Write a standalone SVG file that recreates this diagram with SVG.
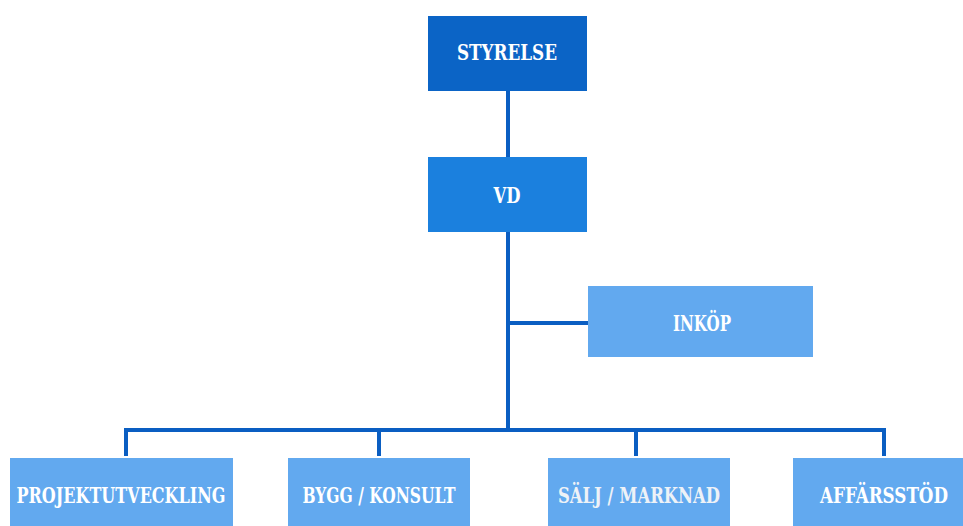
<svg xmlns="http://www.w3.org/2000/svg" width="963" height="526" viewBox="0 0 963 526">
<style>
.box1{fill:#0b64c6}
.box2{fill:#1b80de}
.box3{fill:#62a9ef}
.lbl{fill:#ffffff;font-family:"DejaVu Serif Condensed","DejaVu Serif",serif;font-weight:bold;font-size:23px;text-anchor:middle}
.conn{stroke:#0a5ec2;stroke-width:4;fill:none}
</style>
<rect width="963" height="526" fill="#ffffff"/>
<g id="connectors">
<line class="conn" x1="508" y1="91" x2="508" y2="157"/>
<line class="conn" x1="508" y1="232" x2="508" y2="432"/>
<line class="conn" x1="508" y1="323" x2="588" y2="323"/>
<polyline class="conn" points="126,456 126,430 884,430 884,456"/>
<line class="conn" x1="379" y1="430" x2="379" y2="456"/>
<line class="conn" x1="636" y1="430" x2="636" y2="456"/>
</g>
<g id="styrelse">
<rect class="box1" x="428" y="16" width="159" height="75"/>
<text class="lbl" x="507" y="60" textLength="100" lengthAdjust="spacingAndGlyphs">STYRELSE</text>
</g>
<g id="vd">
<rect class="box2" x="428" y="157" width="159" height="75"/>
<text class="lbl" x="507" y="203" textLength="27" lengthAdjust="spacingAndGlyphs">VD</text>
</g>
<g id="inkop">
<rect class="box3" x="588" y="286" width="225" height="71"/>
<text class="lbl" x="702" y="331" textLength="58" lengthAdjust="spacingAndGlyphs">INKÖP</text>
</g>
<g id="projektutveckling">
<rect class="box3" x="10" y="458" width="223" height="68"/>
<text class="lbl" x="121" y="503" textLength="209" lengthAdjust="spacingAndGlyphs">PROJEKTUTVECKLING</text>
</g>
<g id="bygg">
<rect class="box3" x="288" y="458" width="182" height="68"/>
<text class="lbl" x="379" y="503" textLength="153" lengthAdjust="spacingAndGlyphs">BYGG / KONSULT</text>
</g>
<g id="salj">
<rect class="box3" x="548" y="458" width="182" height="68"/>
<text class="lbl" x="639" y="503" textLength="162" lengthAdjust="spacingAndGlyphs" style="fill:#eef2f7">SÄLJ / MARKNAD</text>
</g>
<g id="affarsstod">
<rect class="box3" x="793" y="458" width="170" height="68"/>
<text class="lbl" x="884" y="503" textLength="128" lengthAdjust="spacingAndGlyphs">AFFÄRSSTÖD</text>
</g>
</svg>
